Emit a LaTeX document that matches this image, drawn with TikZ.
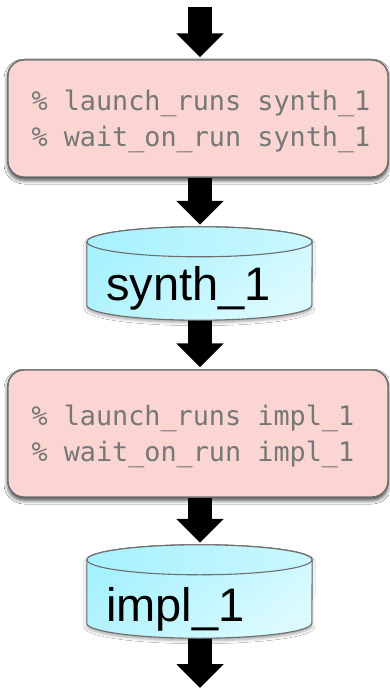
\documentclass[tikz,border=0pt]{standalone}
\usepackage{fontspec}
\newfontfamily\codefont{DejaVu Sans Mono}
\newfontfamily\labelfont{Liberation Sans}
\usetikzlibrary{arrows.meta,calc,shadows.blur}
\newcommand\msp{\hspace*{0.602em}}
\definecolor{boxpink}{HTML}{FAD5D2}
\definecolor{edgegray}{HTML}{6E6E6E}
\definecolor{codegray}{HTML}{777777}
\definecolor{cyanA}{HTML}{A6F1FE}
\definecolor{cyanB}{HTML}{DAFAFF}
\newcommand\drawcyl[1]{%
  \path[top color=cyanA, bottom color=cyanB, shading angle=40, draw=edgegray, line width=1.1pt,
        blur shadow={shadow xshift=0pt, shadow yshift=-2.5pt, shadow blur radius=3pt, shadow opacity=35}]
    ($(#1.north west)+(0,-15pt)$) -- ($(#1.south west)+(0,15pt)$)
    arc[start angle=180, end angle=360, x radius=112.5pt, y radius=15pt]
    -- ($(#1.north east)+(0,-15pt)$)
    arc[start angle=0, end angle=180, x radius=112.5pt, y radius=15pt] -- cycle;
  \path[left color=cyanA, right color=cyanB!70!cyanA, draw=edgegray, line width=1.1pt]
    ($(#1.north)+(0,-15pt)$) ellipse[x radius=112.5pt, y radius=15pt];
}
\begin{document}
\begin{tikzpicture}[x=1pt, y=-1pt,
  pinkbox/.style={draw=edgegray, line width=1.4pt, fill=boxpink, rounded corners=16pt,
    minimum width=380pt, inner sep=0pt,
    blur shadow={shadow xshift=0pt, shadow yshift=-3pt, shadow blur radius=4pt, shadow opacity=45}},
  cylnode/.style={draw=none, minimum width=225pt, minimum height=93pt, inner sep=0pt},
  codetext/.style={font=\fontsize{26.8}{36}\selectfont\codefont, text=codegray, text width=350pt, align=left, inner sep=0pt, anchor=west},
  cyltext/.style={font=\fontsize{47}{47}\selectfont\labelfont, text=black, inner sep=0pt, anchor=base west},
  bigarrow/.style={line width=24pt, draw=black, -{Triangle[width=46pt, length=24pt]}, shorten >=2pt}]
\fill[white] (0,0) rectangle (389,692);
\useasboundingbox (0,0) rectangle (389,692);

\coordinate (a0) at (200,7);
\coordinate (a5) at (200,690);

\node[pinkbox, minimum height=117pt] (b1) at (198,118.5) {};
\node[cylnode] (c1) at (199.5,273.5) {};
\node[pinkbox, minimum height=127pt] (b2) at (198,433.5) {};
\node[cylnode] (c2) at (199.5,591.5) {};

% arrows
\draw[bigarrow] (a0) -- (a0 |- b1.north);
\draw[bigarrow] (a0 |- b1.south) -- (a0 |- c1.north);
\draw[bigarrow] (a0 |- c1.south) -- (a0 |- b2.north);
\draw[bigarrow] (a0 |- b2.south) -- (a0 |- c2.north);
\draw[bigarrow] (a0 |- c2.south) -- (a5);

% boxes redrawn on top
\node[pinkbox, minimum height=117pt] at (b1) {};
\node[pinkbox, minimum height=127pt] at (b2) {};
\drawcyl{c1}
\drawcyl{c2}

\node[codetext] (t1) at ($(b1.west)+(24pt,-2.5pt)$) {\%\msp launch\_runs\msp synth\_1\\\%\msp wait\_on\_run\msp synth\_1};
\node[codetext] (t2) at ($(b2.west)+(24pt,-2.5pt)$) {\%\msp launch\_runs\msp impl\_1\\\%\msp wait\_on\_run\msp impl\_1};
\node[cyltext] (s1) at (106,300) {synth\_1};
\node[cyltext] (s2) at (106,621) {impl\_1};
\end{tikzpicture}
\end{document}
